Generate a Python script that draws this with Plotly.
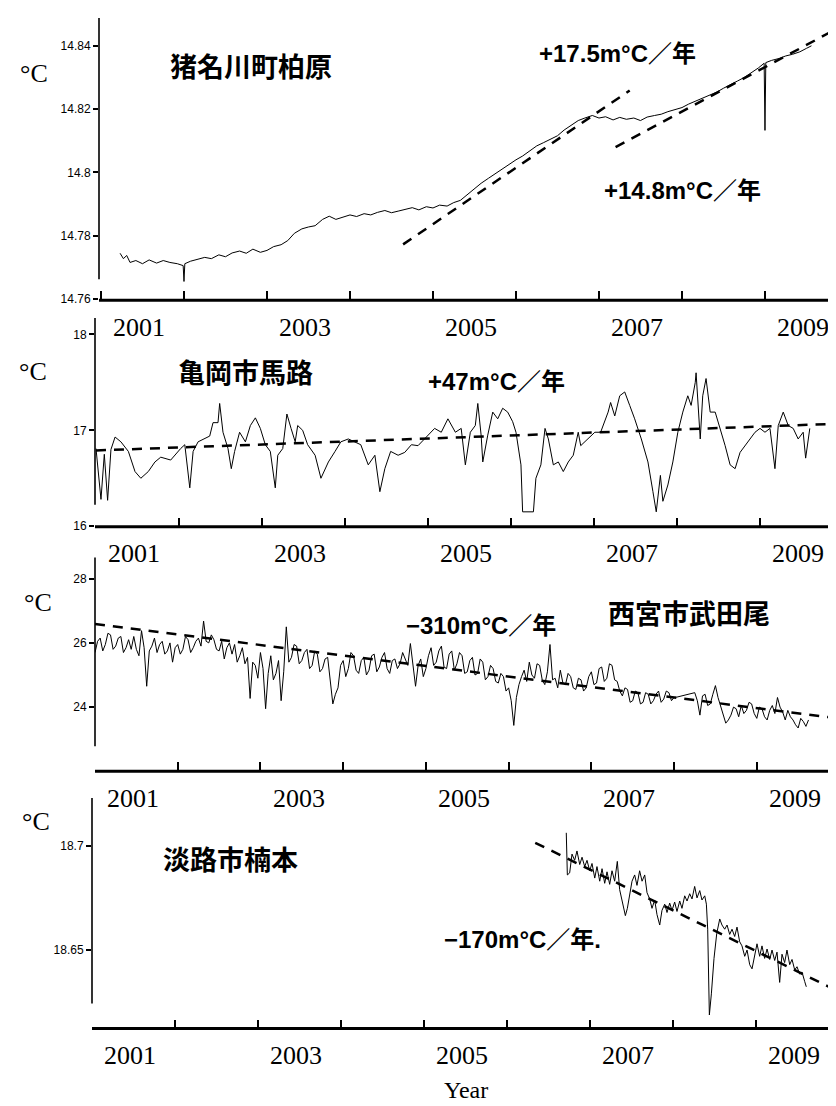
import plotly.graph_objects as go

W, H = 836, 1106

# ---------------- Panel 1: 猪名川町柏原 ----------------
p1_years = [2001.23, 2001.27, 2001.31, 2001.35, 2001.42, 2001.50, 2001.58, 2001.67, 2001.75, 2001.83,
            2001.92, 2001.99, 2002.00, 2002.01, 2002.08, 2002.17, 2002.25, 2002.33, 2002.42, 2002.50,
            2002.58, 2002.67, 2002.75, 2002.83, 2002.92, 2003.00, 2003.08, 2003.17, 2003.25, 2003.33,
            2003.42, 2003.50, 2003.58, 2003.67, 2003.75, 2003.83, 2003.92, 2004.00, 2004.08, 2004.17,
            2004.25, 2004.33, 2004.42, 2004.50, 2004.58, 2004.67, 2004.75, 2004.83, 2004.92, 2005.00,
            2005.08, 2005.17, 2005.25, 2005.33, 2005.42, 2005.50, 2005.58, 2005.67, 2005.75, 2005.83,
            2005.92, 2006.00, 2006.08, 2006.17, 2006.25, 2006.33, 2006.42, 2006.50, 2006.58, 2006.67,
            2006.75, 2006.83, 2006.92, 2007.00, 2007.08, 2007.17, 2007.25, 2007.33, 2007.42, 2007.50,
            2007.58, 2007.67, 2007.75, 2007.83, 2007.92, 2008.00, 2008.08, 2008.17, 2008.25, 2008.33,
            2008.42, 2008.50, 2008.58, 2008.67, 2008.75, 2008.83, 2008.92, 2008.99, 2009.00, 2009.01,
            2009.08, 2009.17, 2009.25, 2009.33, 2009.42, 2009.50, 2009.56]
p1_vals = [14.7745, 14.7728, 14.7738, 14.7716, 14.7722, 14.7712, 14.7724, 14.7714, 14.7722, 14.7716,
           14.7712, 14.7706, 14.7656, 14.7712, 14.7720, 14.7726, 14.7732, 14.7728, 14.7740, 14.7734,
           14.7746, 14.7752, 14.7745, 14.7758, 14.7748, 14.7754, 14.7766, 14.7772, 14.7785, 14.7808,
           14.7822, 14.7828, 14.7832, 14.7852, 14.7862, 14.7852, 14.7860, 14.7866, 14.7861, 14.7870,
           14.7866, 14.7874, 14.7880, 14.7873, 14.7878, 14.7884, 14.7889, 14.7882, 14.7892, 14.7888,
           14.7897, 14.7894, 14.7905, 14.7912, 14.7932, 14.7950, 14.7966, 14.7982, 14.7996, 14.8012,
           14.8026, 14.8040, 14.8052, 14.8068, 14.8084, 14.8094, 14.8106, 14.8116, 14.8134, 14.8150,
           14.8164, 14.8172, 14.8180, 14.8172, 14.8176, 14.8166, 14.8174, 14.8168, 14.8172, 14.8164,
           14.8175, 14.8180, 14.8184, 14.8192, 14.8200, 14.8205, 14.8216, 14.8226, 14.8234, 14.8245,
           14.8254, 14.8266, 14.8278, 14.8289, 14.8300, 14.8314, 14.8330, 14.8345, 14.8133, 14.8347,
           14.8354, 14.8360, 14.8368, 14.8373, 14.8381, 14.8392, 14.8400]
p1_trend_a_years = [2004.64, 2007.37]
p1_trend_a_vals = [14.7773, 14.8259]
p1_trend_b_years = [2007.20, 2009.88]
p1_trend_b_vals = [14.8080, 14.8456]

# ---------------- Panel 2: 亀岡市馬路 ----------------
p2_years = [2001.00, 2001.06, 2001.10, 2001.14, 2001.18, 2001.23, 2001.30, 2001.39, 2001.47, 2001.54,
            2001.63, 2001.71, 2001.78, 2001.90, 2002.02, 2002.07, 2002.13, 2002.17, 2002.23, 2002.31,
            2002.37, 2002.41, 2002.47, 2002.49, 2002.53, 2002.59, 2002.63, 2002.67, 2002.73, 2002.80,
            2002.86, 2002.92, 2002.98, 2003.04, 2003.10, 2003.16, 2003.19, 2003.25, 2003.30, 2003.35,
            2003.40, 2003.43, 2003.49, 2003.55, 2003.64, 2003.71, 2003.80, 2003.88, 2003.95, 2004.04,
            2004.12, 2004.19, 2004.28, 2004.36, 2004.42, 2004.48, 2004.55, 2004.64, 2004.72, 2004.80,
            2004.88, 2005.00, 2005.08, 2005.16, 2005.24, 2005.33, 2005.40, 2005.45, 2005.51, 2005.57,
            2005.60, 2005.64, 2005.66, 2005.72, 2005.78, 2005.84, 2005.90, 2005.96, 2006.02, 2006.06,
            2006.12, 2006.14, 2006.20, 2006.27, 2006.30, 2006.36, 2006.41, 2006.45, 2006.51, 2006.57,
            2006.63, 2006.69, 2006.75, 2006.81, 2006.84, 2006.93, 2007.01, 2007.08, 2007.17, 2007.20,
            2007.25, 2007.31, 2007.37, 2007.43, 2007.49, 2007.57, 2007.65, 2007.71, 2007.75, 2007.80,
            2007.83, 2007.89, 2007.95, 2008.01, 2008.07, 2008.13, 2008.17, 2008.22, 2008.23, 2008.28,
            2008.31, 2008.35, 2008.40, 2008.46, 2008.52, 2008.58, 2008.64, 2008.70, 2008.76, 2008.82,
            2008.88, 2008.94, 2009.00, 2009.06, 2009.12, 2009.18, 2009.22, 2009.28, 2009.34, 2009.40,
            2009.46, 2009.52, 2009.55, 2009.60]
p2_vals = [16.81, 16.28, 16.75, 16.27, 16.80, 16.93, 16.88, 16.78, 16.57, 16.50,
           16.57, 16.67, 16.72, 16.69, 16.81, 16.85, 16.40, 16.78, 16.88, 16.91,
           16.94, 17.08, 17.08, 17.28, 16.98, 16.81, 16.60, 16.78, 16.98, 16.88,
           17.05, 17.13, 17.02, 16.85, 16.78, 16.40, 16.74, 16.81, 17.17, 17.02,
           16.88, 17.05, 17.00, 16.85, 16.74, 16.50, 16.67, 16.78, 16.88, 16.91,
           16.88, 16.85, 16.64, 16.74, 16.36, 16.60, 16.78, 16.74, 16.77, 16.85,
           16.84, 16.95, 17.02, 16.98, 17.12, 16.98, 17.02, 16.64, 16.98, 17.05,
           17.28, 16.95, 16.67, 16.95, 17.19, 17.12, 17.23, 17.19, 17.09, 16.98,
           16.64, 16.15, 16.15, 16.15, 16.50, 16.64, 17.02, 16.91, 16.64, 16.67,
           16.57, 16.67, 16.74, 16.98, 16.84, 16.91, 16.98, 16.98, 17.19, 17.29,
           17.15, 17.36, 17.40, 17.26, 17.12, 16.91, 16.67, 16.36, 16.15, 16.53,
           16.26, 16.43, 16.67, 16.98, 17.19, 17.36, 17.26, 17.50, 17.60, 16.91,
           17.36, 17.54, 17.19, 17.19, 17.02, 16.84, 16.64, 16.60, 16.77, 16.84,
           16.91, 16.98, 17.02, 16.98, 17.02, 16.60, 17.05, 17.19, 17.05, 17.02,
           16.91, 16.98, 16.71, 17.02]
p2_trend_years = [2001.0, 2009.99]
p2_trend_vals = [16.79, 17.07]

# ---------------- Panel 3: 西宮市武田尾 ----------------
p3_start = 2001.0
p3_step = 1.0 / 32
p3_vals = [25.70, 26.05, 26.15, 25.75, 25.95, 26.30, 26.25, 25.80, 25.90, 26.15, 26.20, 25.70, 25.85, 26.10, 25.80, 26.20,
           25.80, 25.60, 26.38, 25.85, 24.65, 25.75, 25.90, 26.15, 25.70, 25.95, 26.05, 25.65, 25.75, 26.00, 25.40, 25.85,
           25.95, 25.65, 25.80, 26.20, 26.10, 25.70, 25.85, 26.05, 26.15, 25.90, 26.68, 26.05, 26.00, 26.25, 26.10, 25.80,
           25.75, 26.05, 25.50, 25.85, 26.00, 25.65, 25.95, 25.40, 25.60, 25.85, 25.35, 25.55, 24.27, 25.40, 25.30, 24.90,
           25.70, 25.20, 23.95, 25.05, 25.60, 24.85, 25.05, 25.45, 24.20, 25.10, 26.50, 25.40, 25.55, 25.95, 25.90, 25.35,
           25.45, 25.70, 25.80, 25.20, 25.30, 25.75, 25.65, 25.10, 25.20, 25.50, 25.55, 24.90, 24.10, 24.40, 24.60, 25.30,
           25.45, 24.95, 25.20, 25.70, 25.60, 25.15, 25.05, 25.45, 25.55, 25.00, 25.15, 25.60, 25.65, 25.10, 25.25, 25.55,
           25.70, 25.20, 25.05, 25.45, 25.50, 25.20, 25.35, 25.70, 25.50, 25.30, 25.98, 25.40, 24.65, 25.30, 25.50, 24.95,
           25.20, 25.60, 25.85, 25.30, 25.40, 25.75, 25.90, 25.25, 25.20, 25.65, 25.75, 25.15, 25.35, 25.70, 25.60, 25.05,
           25.10, 25.45, 25.55, 25.00, 25.05, 25.50, 25.40, 24.85, 24.95, 25.30, 25.20, 24.80, 24.75, 25.05, 24.95, 24.50,
           24.60, 24.20, 23.43, 24.30, 24.70, 24.95, 25.15, 24.80, 25.40, 25.00, 24.90, 25.35, 25.30, 24.85, 24.70, 25.10,
           25.95, 24.85, 24.90, 24.60, 25.15, 24.75, 24.70, 25.05, 24.95, 24.60, 24.55, 24.90, 24.85, 24.50, 24.60, 24.95,
           25.10, 24.70, 24.75, 25.20, 25.25, 24.80, 24.90, 25.35, 25.30, 24.85, 24.80, 24.50, 24.35, 24.60, 24.55, 24.15,
           24.20, 24.50, 24.45, 24.10, 24.15, 24.45, 24.40, 24.10, 24.20, 24.40, 24.50, 24.15, 24.25, 24.50, 24.45, 24.20,
           24.30, 24.31, 24.33, 24.34, 24.36, 24.38, 24.40, 24.42, 24.45, 24.20, 23.75, 24.35, 24.40, 24.05, 24.10, 24.40,
           24.67, 24.30, 24.05, 23.80, 23.50, 23.60, 23.75, 24.00, 23.95, 23.70, 24.05, 23.80, 23.90, 24.15, 24.10, 23.80,
           23.65, 24.00, 23.95, 23.70, 23.60, 23.90, 24.05, 23.80, 24.30, 24.00, 23.85, 23.60, 23.90, 23.70, 23.60, 23.45,
           23.35, 23.65, 23.55, 23.40, 23.60]
p3_years = [p3_start + i * p3_step for i in range(len(p3_vals))]
p3_trend_years = [2001.0, 2009.98]
p3_trend_vals = [26.59, 23.65]

# ---------------- Panel 4: 淡路市楠本 ----------------
p4_years = [2006.714, 2006.727, 2006.755, 2006.783, 2006.815, 2006.843, 2006.876, 2006.904, 2006.936, 2006.964,
            2006.996, 2007.024, 2007.057, 2007.084, 2007.117, 2007.145, 2007.177, 2007.205, 2007.237, 2007.265,
            2007.297, 2007.329, 2007.357, 2007.398, 2007.426, 2007.450, 2007.478, 2007.506, 2007.538, 2007.566,
            2007.598, 2007.627, 2007.659, 2007.687, 2007.719, 2007.747, 2007.779, 2007.807, 2007.840, 2007.867,
            2007.900, 2007.928, 2007.960, 2007.988, 2008.020, 2008.048, 2008.081, 2008.108, 2008.141, 2008.169,
            2008.201, 2008.229, 2008.261, 2008.289, 2008.322, 2008.349, 2008.382, 2008.402, 2008.418, 2008.438,
            2008.462, 2008.494, 2008.527, 2008.563, 2008.590, 2008.623, 2008.651, 2008.683, 2008.711, 2008.743,
            2008.771, 2008.803, 2008.831, 2008.864, 2008.892, 2008.924, 2008.952, 2008.984, 2009.012, 2009.044,
            2009.072, 2009.104, 2009.133, 2009.165, 2009.193, 2009.225, 2009.253, 2009.285, 2009.313, 2009.345,
            2009.373, 2009.406, 2009.434, 2009.466, 2009.494, 2009.526, 2009.554, 2009.586, 2009.606]
p4_vals = [18.7062, 18.6860, 18.6870, 18.6960, 18.6930, 18.6975, 18.6910, 18.6945, 18.6900, 18.6930,
           18.6880, 18.6915, 18.6845, 18.6900, 18.6830, 18.6890, 18.6820, 18.6875, 18.6815, 18.6880,
           18.6830, 18.6925, 18.6790, 18.6720, 18.6665, 18.6700, 18.6776, 18.6830, 18.6860, 18.6810,
           18.6880, 18.6830, 18.6860, 18.6775, 18.6745, 18.6700, 18.6740, 18.6670, 18.6620, 18.6690,
           18.6720, 18.6680, 18.6725, 18.6690, 18.6730, 18.6685, 18.6735, 18.6700, 18.6760, 18.6735,
           18.6770, 18.6745, 18.6805, 18.6750, 18.6785, 18.6740, 18.6760, 18.6720, 18.6600, 18.6189,
           18.6290, 18.6460, 18.6580, 18.6649, 18.6620, 18.6600, 18.6620, 18.6575, 18.6600, 18.6565,
           18.6610, 18.6540, 18.6520, 18.6470, 18.6500, 18.6430, 18.6410, 18.6480, 18.6530, 18.6470,
           18.6520, 18.6460, 18.6505, 18.6455, 18.6500, 18.6450, 18.6490, 18.6345, 18.6480, 18.6440,
           18.6500, 18.6430, 18.6455, 18.6405, 18.6420, 18.6385, 18.6395, 18.6350, 18.6324]
p4_trend_years = [2006.34, 2010.0]
p4_trend_vals = [18.7014, 18.6300]

# ---------------- tick labels ----------------
year_ticks = list(range(2001, 2011))
year_labels = [2001, 2003, 2005, 2007, 2009]
p1_yticks = [14.76, 14.78, 14.80, 14.82, 14.84]
p1_ytext = ["14.76", "14.78", "14.8", "14.82", "14.84"]
p2_yticks = [16, 17, 18]
p2_ytext = ["16", "17", "18"]
p3_yticks = [22, 24, 26, 28]
p3_ytext = ["22", "24", "26", "28"]
p4_yticks = [18.65, 18.70]
p4_ytext = ["18.65", "18.7"]

SERIF = "Liberation Serif, Times New Roman, serif"
SANS = "Liberation Sans, Arial, sans-serif"
CJK = "Liberation Sans, Noto Sans CJK JP, sans-serif"

panels = [
    dict(xs=p1_years, ys=p1_vals, trends=[(p1_trend_a_years, p1_trend_a_vals), (p1_trend_b_years, p1_trend_b_vals)],
         xpx=(91, 834), ypx=(10, 294), xr=(2000.976, 2009.928), yr=(14.7597, 14.8488),
         yt=p1_yticks, ytt=p1_ytext, gap=0.074),
    dict(xs=p2_years, ys=p2_vals, trends=[(p2_trend_years, p2_trend_vals)],
         xpx=(87, 834), ypx=(312, 522), xr=(2000.988, 2009.988), yr=(15.995, 18.171),
         yt=p2_yticks, ytt=p2_ytext, gap=0.105),
    dict(xs=p3_years, ys=p3_vals, trends=[(p3_trend_years, p3_trend_vals)],
         xpx=(87, 834), ypx=(553, 768), xr=(2001.0, 2010.03), yr=(22.006, 28.66),
         yt=p3_yticks, ytt=p3_ytext, gap=0.116),
    dict(xs=p4_years, ys=p4_vals, trends=[(p4_trend_years, p4_trend_vals)],
         xpx=(84, 834), ypx=(795, 1027), xr=(2001.0, 2010.036), yr=(18.6124, 18.7229),
         yt=p4_yticks, ytt=p4_ytext, gap=0.108),
]

fig = go.Figure()
shapes = []
annotations = []
layout = {}

for i, p in enumerate(panels, start=1):
    s = "" if i == 1 else str(i)
    xa, ya = "x" + s, "y" + s
    fig.add_trace(go.Scatter(x=p["xs"], y=p["ys"], mode="lines", xaxis=xa, yaxis=ya,
                             line=dict(color="black", width=1), showlegend=False, hoverinfo="skip"))
    for tx, ty in p["trends"]:
        fig.add_trace(go.Scatter(x=tx, y=ty, mode="lines", xaxis=xa, yaxis=ya,
                                 line=dict(color="black", width=2.5, dash="10px,8px"),
                                 showlegend=False, hoverinfo="skip"))
    layout["xaxis" + s] = dict(domain=[p["xpx"][0] / W, p["xpx"][1] / W], range=list(p["xr"]), anchor=ya,
                               tickvals=year_ticks, ticks="inside", ticklen=9, tickwidth=2, tickcolor="black",
                               showticklabels=False, showgrid=False, zeroline=False, showline=False,
                               fixedrange=True)
    layout["yaxis" + s] = dict(domain=[1 - p["ypx"][1] / H, 1 - p["ypx"][0] / H], range=list(p["yr"]), anchor=xa,
                               tickvals=p["yt"], ticktext=p["ytt"], ticks="outside", ticklen=5, tickwidth=1.5,
                               tickcolor="black", tickfont=dict(family=SANS, size=12, color="black"),
                               showgrid=False, zeroline=False, showline=False, mirror="ticks", fixedrange=True)
    # axis lines
    shapes.append(dict(type="line", xref=xa + " domain", yref=ya + " domain", x0=0, x1=0, y0=p["gap"], y1=1,
                       line=dict(color="black", width=1.6)))
    shapes.append(dict(type="line", xref=xa + " domain", yref=ya + " domain", x0=0, x1=1, y0=0, y1=0,
                       line=dict(color="black", width=3)))
    for yl in year_labels:
        annotations.append(dict(x=yl + 0.46, xref=xa, y=0, yref=ya + " domain", yshift=-27,
                                text=str(yl), showarrow=False, yanchor="middle",
                                font=dict(family=SERIF, size=26, color="black")))

# right axis line of the bottom panel
shapes.append(dict(type="line", xref="x4 domain", yref="y4 domain", x0=1, x1=1, y0=0.02, y1=0.94,
                   line=dict(color="black", width=1.5)))

def paper(px, py):
    return px / W, 1 - py / H

def add_text(text, px, py, size, family, bold=False):
    x, y = paper(px, py)
    annotations.append(dict(x=x, y=y, xref="paper", yref="paper", text=("<b>%s</b>" % text) if bold else text,
                            showarrow=False, xanchor="center", yanchor="middle",
                            font=dict(family=family, size=size, color="black")))

for (cx, cy) in [(26, 66), (25, 366), (30, 598), (28, 819)]:
    add_text("°C", cx, cy, 26, SERIF)

add_text("猪名川町柏原", 243, 60, 27, CJK, bold=True)
add_text("+17.5m°C／年", 609, 46, 24, CJK, bold=True)
add_text("+14.8m°C／年", 674, 184, 24, CJK, bold=True)
add_text("亀岡市馬路", 237, 368, 27, CJK, bold=True)
add_text("+47m°C／年", 488, 376, 24, CJK, bold=True)
add_text("西宮市武田尾", 681, 611, 27, CJK, bold=True)
add_text("−310m°C／年", 473, 621, 24, CJK, bold=True)
add_text("淡路市楠本", 223, 858, 27, CJK, bold=True)
add_text("−170m°C／年.", 514, 937, 24, CJK, bold=True)
add_text("Year", 458, 1089, 24, SERIF)

fig.update_layout(width=W, height=H, margin=dict(l=0, r=0, t=0, b=0),
                  paper_bgcolor="white", plot_bgcolor="white",
                  shapes=shapes, annotations=annotations, showlegend=False, **layout)

fig.write_html("out.html")
